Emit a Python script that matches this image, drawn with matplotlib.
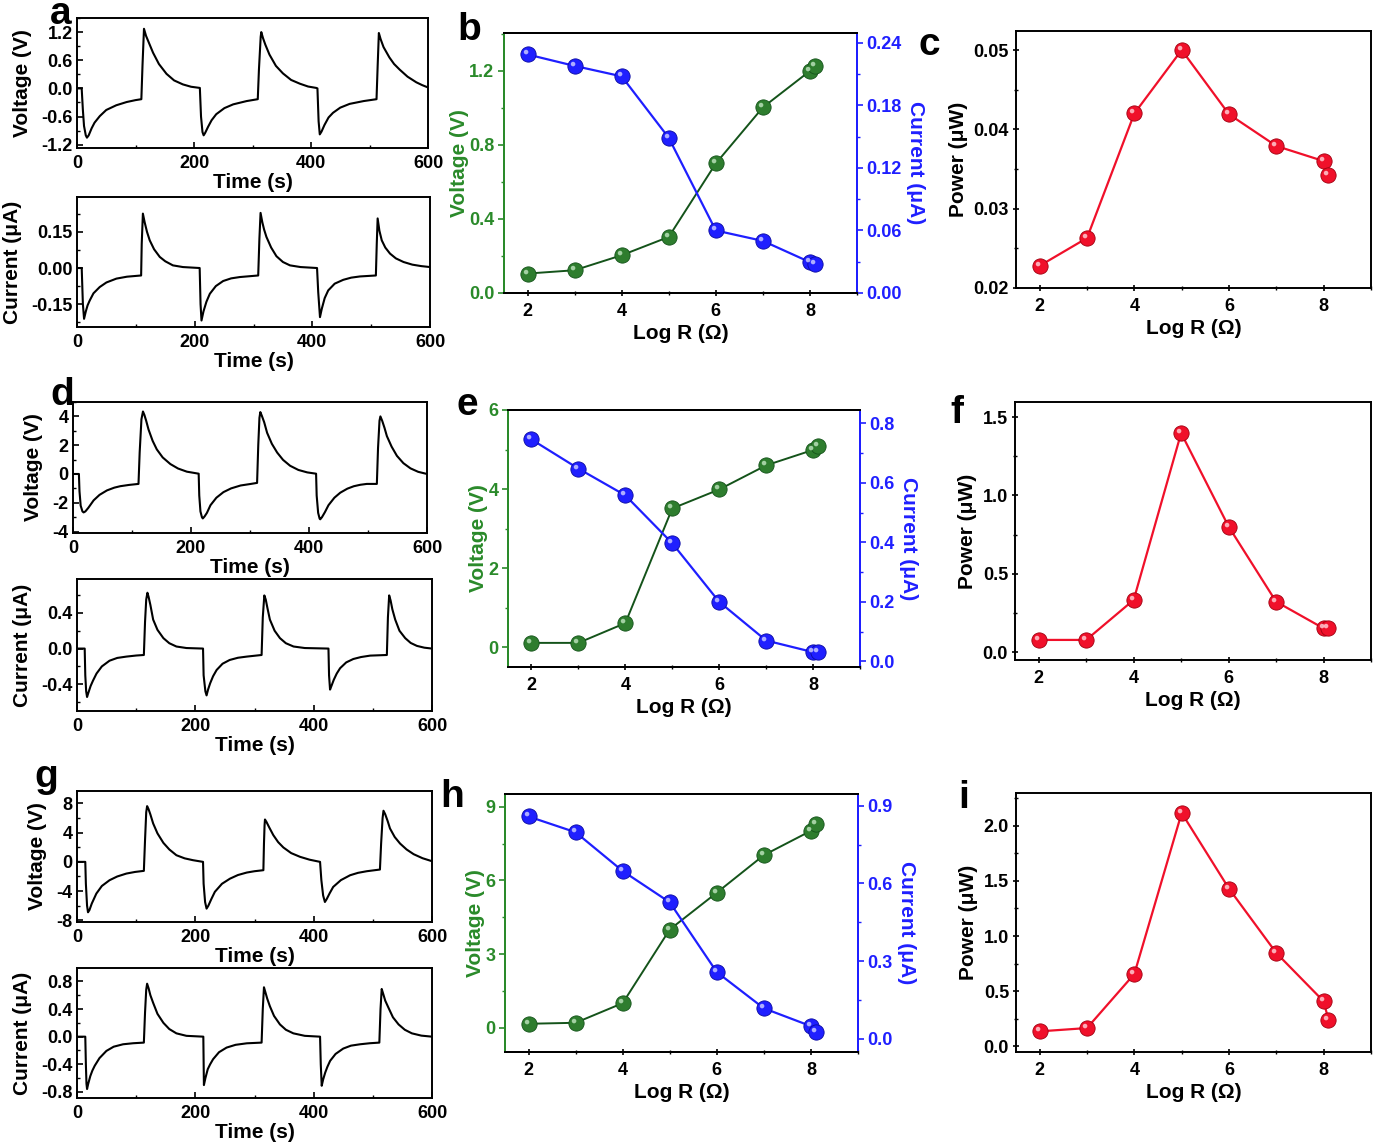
import matplotlib
matplotlib.use('Agg')
import matplotlib.pyplot as plt
from matplotlib.path import Path
from matplotlib.ticker import MultipleLocator, FormatStrFormatter
import numpy as np

plt.rcParams['font.family'] = ['Liberation Sans', 'DejaVu Sans']
plt.rcParams['font.weight'] = 'bold'
plt.rcParams['axes.unicode_minus'] = False

# ---------------- data: time series ----------------
a_v_t = [0, 8, 10, 12, 15, 17, 20, 25, 30, 39, 50, 67, 85, 100, 110, 112, 114.5, 118, 123, 130, 140, 153, 166, 181, 195, 210,
         212, 214.5, 216.5, 219, 224, 230, 238, 252, 267, 290, 309, 311, 314, 315, 318, 322, 329, 340, 352, 366, 381, 395, 409,
         411, 413, 415, 418, 423, 430, 437.6, 450, 466, 490, 512, 514, 516, 519, 524, 534, 542, 551.6, 565, 580, 590, 600]
a_v = [0, 0, -0.45, -0.8, -1.0, -1.05, -1.0, -0.85, -0.73, -0.59, -0.46, -0.36, -0.29, -0.25, -0.23, 0.5, 1.27, 1.12, 0.97, 0.76, 0.52, 0.31, 0.17, 0.085, 0.035, 0.01,
       -0.6, -0.93, -1.0, -0.95, -0.82, -0.68, -0.55, -0.42, -0.34, -0.27, -0.23, 0.4, 1.1, 1.2, 1.07, 0.93, 0.72, 0.48, 0.32, 0.18, 0.10, 0.04, 0.01,
       0.0, -0.7, -0.98, -0.92, -0.78, -0.62, -0.52, -0.41, -0.33, -0.27, -0.23, 0.5, 1.18, 1.05, 0.88, 0.66, 0.52, 0.40, 0.25, 0.13, 0.07, 0.02]

a_i_t = [0, 8, 10, 12, 15, 18, 21.6, 28, 38.6, 50, 67, 85, 109, 110, 112, 115, 119, 123.6, 131, 140.7, 150, 163, 180, 208.5,
         210, 211.6, 215, 220, 225.8, 236, 248.4, 262, 276.8, 308, 310, 312, 315, 318, 322, 330, 339, 350, 362, 380, 408,
         410, 413, 416, 421, 427, 438, 452.6, 466, 481, 508, 509.5, 511, 514, 518, 524, 532, 542, 555, 570, 585, 600]
a_i = [0, 0, -0.15, -0.211, -0.18, -0.155, -0.135, -0.105, -0.079, -0.06, -0.044, -0.036, -0.031, 0.1, 0.226, 0.19, 0.15, 0.115, 0.078, 0.046, 0.028, 0.011, 0.004, 0.0,
       -0.15, -0.218, -0.18, -0.14, -0.107, -0.075, -0.054, -0.043, -0.0375, -0.031, 0.12, 0.229, 0.19, 0.16, 0.129, 0.085, 0.049, 0.025, 0.011, 0.004, 0.0,
       -0.1, -0.204, -0.17, -0.125, -0.093, -0.065, -0.049, -0.04, -0.035, -0.031, 0.1, 0.206, 0.155, 0.115, 0.085, 0.06, 0.04, 0.025, 0.014, 0.008, 0.004]

d_v_t = [0, 10, 11, 13, 16, 18, 21, 26, 35, 45, 57.6, 70, 80, 95, 111, 113, 116, 118.6, 121, 124, 128, 135, 142, 152, 165, 178, 193, 213,
         214, 216, 218.5, 220, 223, 227, 233, 243, 255, 268, 284, 300, 312, 314, 316, 317.5, 320, 324, 329, 337, 346, 356, 368, 382, 397, 412,
         413, 415.5, 418, 419, 422, 427, 433, 443, 453, 465, 476, 487, 498, 515, 517, 519.5, 521, 524, 528, 532, 540, 549, 560, 572, 585, 600]
d_v = [0, 0, -1.2, -2.2, -2.6, -2.67, -2.6, -2.35, -1.83, -1.45, -1.14, -0.95, -0.85, -0.76, -0.69, 1.5, 3.8, 4.34, 4.1, 3.7, 3.09, 2.3, 1.71, 1.15, 0.69, 0.38, 0.16, 0.02,
       -1.5, -2.6, -3.0, -3.09, -2.95, -2.7, -2.17, -1.65, -1.26, -1.0, -0.8, -0.7, -0.62, 2.0, 3.9, 4.3, 4.05, 3.6, 2.86, 2.1, 1.49, 0.98, 0.57, 0.28, 0.11, 0.02,
       -1.5, -2.7, -3.1, -3.15, -3.0, -2.65, -2.17, -1.65, -1.3, -1.02, -0.85, -0.75, -0.69, -0.69, 1.8, 3.7, 4.0, 3.7, 3.2, 2.63, 1.9, 1.26, 0.75, 0.39, 0.15, 0.0]

d_i_t = [0, 13, 14, 15.5, 17, 19, 23, 27, 33, 42, 55, 68, 83.5, 100, 113, 115, 117, 119, 121, 124, 128.7, 136, 146, 156, 168, 185, 213,
         214, 217, 219, 221.5, 225, 230, 236, 246, 258, 272, 287, 312, 314, 316.6, 319, 322, 326, 334, 343, 353, 366, 385, 425,
         426, 427.7, 430, 434, 439, 444.7, 455, 467, 480, 495.5, 523.7, 525.5, 527.6, 530, 533, 537.8, 545, 554.7, 564, 574.5, 587, 600]
d_i = [0, 0, -0.3, -0.48, -0.543, -0.5, -0.42, -0.36, -0.28, -0.2, -0.136, -0.105, -0.09, -0.078, -0.072, 0.3, 0.55, 0.626, 0.58, 0.49, 0.325, 0.21, 0.117, 0.06, 0.023, 0.006, 0.0,
       -0.3, -0.48, -0.525, -0.46, -0.39, -0.31, -0.24, -0.17, -0.128, -0.103, -0.09, -0.072, 0.35, 0.596, 0.55, 0.45, 0.325, 0.2, 0.117, 0.06, 0.023, 0.006, 0.0,
       -0.3, -0.46, -0.42, -0.35, -0.28, -0.22, -0.155, -0.117, -0.095, -0.079, -0.072, 0.35, 0.596, 0.54, 0.44, 0.325, 0.2, 0.117, 0.063, 0.03, 0.01, 0.0]

g_v_t = [0, 14, 15, 17, 18.6, 21, 25, 32.7, 42, 55, 68, 83.5, 98, 113, 115, 117, 118.5, 121, 124, 128.7, 136, 146, 156, 168, 182, 196, 213,
         214, 216.5, 219, 222, 227, 233, 245, 258.5, 272, 287, 300, 315, 316, 317, 317.7, 320, 325, 331.8, 340, 348.8, 362, 377, 393, 410.8,
         413, 416, 419, 422, 427, 433, 446, 461.6, 475, 489.8, 512, 514, 516.5, 518, 521, 525, 529, 537, 546, 557, 569, 584, 600]
g_v = [0, 0, -3.0, -6.0, -6.9, -6.6, -5.7, -4.34, -3.3, -2.51, -2.0, -1.6, -1.38, -1.23, 3.0, 6.8, 7.63, 7.2, 6.5, 5.26, 3.9, 2.6, 1.7, 0.91, 0.48, 0.23, 0.0,
       -3.0, -5.5, -6.4, -6.0, -5.1, -4.1, -3.0, -2.3, -1.8, -1.46, -1.28, -1.14, 2.5, 5.0, 5.8, 5.5, 4.7, 3.66, 2.7, 1.97, 1.2, 0.69, 0.3, 0.0,
       -2.5, -4.6, -5.49, -5.1, -4.3, -3.43, -2.5, -1.83, -1.5, -1.28, -1.05, 2.5, 6.0, 7.0, 6.5, 5.6, 4.57, 3.4, 2.51, 1.7, 1.05, 0.5, 0.09]

g_i_t = [0, 14, 15, 16, 17, 19, 22.5, 26, 30, 38, 49.7, 62, 77.9, 95, 113, 115, 117, 118.5, 121, 124, 128.7, 136, 146, 156, 168, 185, 213.5,
         214.5, 217, 221, 225, 230, 240, 252.8, 268, 287, 312, 314, 316, 318.5, 321.5, 326, 333, 343, 353, 365.7, 385, 410.8,
         412, 413.6, 416, 419.5, 423, 427.8, 437, 450, 463, 478.5, 495, 511, 513, 515, 517.5, 521, 526.5, 534, 543.5, 554, 566, 582, 600]
g_i = [0, 0, -0.4, -0.68, -0.757, -0.68, -0.57, -0.49, -0.42, -0.31, -0.206, -0.145, -0.11, -0.095, -0.086, 0.35, 0.68, 0.766, 0.7, 0.6, 0.489, 0.33, 0.2, 0.11, 0.048, 0.012, 0.0,
       -0.7, -0.6, -0.47, -0.4, -0.326, -0.225, -0.158, -0.118, -0.096, -0.086, 0.4, 0.714, 0.64, 0.55, 0.44, 0.3, 0.177, 0.1, 0.048, 0.012, 0.0,
       -0.4, -0.71, -0.62, -0.52, -0.44, -0.35, -0.25, -0.172, -0.13, -0.11, -0.095, -0.086, 0.4, 0.69, 0.62, 0.52, 0.417, 0.28, 0.177, 0.1, 0.048, 0.015, 0.0]

# ---------------- data: load-resistance sweeps ----------------
logR = [2, 3, 4, 5, 6, 7, 8, 8.1]
b_volt = [0.105, 0.123, 0.204, 0.303, 0.70, 1.003, 1.20, 1.229]
b_curr = [0.229, 0.218, 0.208, 0.149, 0.060, 0.050, 0.0296, 0.028]
c_pow = [0.0228, 0.0263, 0.0420, 0.0500, 0.0419, 0.0379, 0.0360, 0.0343]
e_volt = [0.11, 0.11, 0.61, 3.51, 3.99, 4.60, 4.99, 5.10]
e_curr = [0.746, 0.648, 0.558, 0.397, 0.200, 0.070, 0.031, 0.031]
f_pow = [0.079, 0.079, 0.334, 1.398, 0.802, 0.323, 0.153, 0.153]
h_volt = [0.16, 0.20, 1.0, 4.0, 5.5, 7.03, 8.02, 8.28]
h_curr = [0.859, 0.798, 0.648, 0.527, 0.257, 0.117, 0.048, 0.026]
i_pow = [0.136, 0.166, 0.656, 2.115, 1.429, 0.846, 0.408, 0.242]

letters = ['a', 'b', 'c', 'd', 'e', 'f', 'g', 'h', 'i']

# ---------------- style ----------------
W, H = 1378, 1144
fig = plt.figure(figsize=(W / 100, H / 100), dpi=100)
fig.patch.set_facecolor('white')

GREEN = '#2a8a2a'
GREEN_D = '#14531a'
BLUE = '#1f1fff'
BLUE_D = '#0a0aa0'
RED = '#f0102a'
RED_D = '#a00010'
TICK_FS = 13
LAB_FS = 15

hl_path = Path.circle(center=(-0.32, 0.32), radius=0.3)
hl_ext = np.abs(hl_path.vertices).max()


def rect(l, t, r, b):
    return [l / W, 1 - b / H, (r - l) / W, (b - t) / H]


def style(ax, xmaj, xmin, ymaj, ymin, yfmt, direction='in'):
    ax.xaxis.set_major_locator(MultipleLocator(xmaj))
    ax.xaxis.set_minor_locator(MultipleLocator(xmin))
    ax.yaxis.set_major_locator(MultipleLocator(ymaj))
    ax.yaxis.set_minor_locator(MultipleLocator(ymin))
    ax.yaxis.set_major_formatter(FormatStrFormatter(yfmt))
    ax.tick_params(which='major', direction=direction, length=4, width=1.2, labelsize=TICK_FS, pad=3)
    ax.tick_params(axis='x', which='major', pad=5)
    ax.tick_params(which='minor', direction=direction, length=2.5, width=1.0)
    for s in ax.spines.values():
        s.set_linewidth(1.4)
    for lab in ax.get_xticklabels() + ax.get_yticklabels():
        lab.set_fontweight('bold')


def balls(ax, x, y, color, dark, light, ms=11):
    ax.plot(x, y, ls='none', marker='o', ms=ms, mfc=color, mec=dark, mew=0.6, zorder=3)
    ax.plot(x, y, ls='none', marker=hl_path, ms=ms * hl_ext, mfc=light, mec='none', zorder=4, alpha=0.85)


def timeplot(r, t, y, ylim, ymaj, ymin, yfmt, ylabel):
    ax = fig.add_axes(rect(*r))
    ax.plot(t, y, color='black', lw=1.5)
    ax.set_xlim(0, 600)
    ax.set_ylim(*ylim)
    style(ax, 200, 100, ymaj, ymin, yfmt)
    ax.xaxis.set_major_formatter(FormatStrFormatter('%d'))
    ax.set_xlabel('Time (s)', fontsize=LAB_FS, fontweight='bold', labelpad=1)
    ax.set_ylabel(ylabel, fontsize=LAB_FS, fontweight='bold', labelpad=7)
    return ax


def dualplot(r, v, c, vlim, vmaj, vmin, vfmt, clim, cmaj, cmin, cfmt):
    ax = fig.add_axes(rect(*r))
    ax2 = ax.twinx()
    ax.plot(logR, v, color=GREEN_D, lw=1.4, zorder=2)
    balls(ax, logR, v, '#2e7d2e', GREEN_D, '#b8e0b8')
    ax2.plot(logR, c, color=BLUE, lw=1.6, zorder=2)
    balls(ax2, logR, c, BLUE, BLUE_D, '#c8c8ff')
    ax.set_xlim(1.5, 9)
    ax.set_ylim(*vlim)
    ax2.set_ylim(*clim)
    style(ax, 2, 1, vmaj, vmin, vfmt, direction='inout')
    style(ax2, 2, 1, cmaj, cmin, cfmt, direction='inout')
    ax.tick_params(axis='y', which='both', direction='out', colors=GREEN, labelcolor=GREEN)
    ax2.tick_params(axis='y', which='both', direction='out', colors=BLUE, labelcolor=BLUE)
    ax.spines['left'].set_color(GREEN)
    ax2.spines['left'].set_color(GREEN)
    ax.spines['right'].set_color(BLUE)
    ax2.spines['right'].set_color(BLUE)
    ax.xaxis.set_major_formatter(FormatStrFormatter('%d'))
    ax.set_xlabel('Log R (\u03a9)', fontsize=LAB_FS, fontweight='bold', labelpad=3)
    ax.set_ylabel('Voltage (V)', fontsize=LAB_FS, fontweight='bold', color=GREEN, labelpad=0)
    ax2.set_ylabel('Current (\u03bcA)', fontsize=LAB_FS, fontweight='bold', color=BLUE,
                   rotation=270, va='bottom', labelpad=3)
    return ax


def powplot(r, p, ylim, ymaj, ymin, yfmt):
    ax = fig.add_axes(rect(*r))
    ax.plot(logR, p, color=RED, lw=1.6, zorder=2)
    balls(ax, logR, p, RED, RED_D, '#ffc8d0')
    ax.set_xlim(1.5, 9)
    ax.set_ylim(*ylim)
    style(ax, 2, 1, ymaj, ymin, yfmt, direction='inout')
    ax.xaxis.set_major_formatter(FormatStrFormatter('%d'))
    ax.set_xlabel('Log R (\u03a9)', fontsize=LAB_FS, fontweight='bold', labelpad=3)
    ax.set_ylabel('Power (\u03bcW)', fontsize=LAB_FS, fontweight='bold', labelpad=4)
    return ax


# row 1
timeplot((77, 18, 428, 148), a_v_t, a_v, (-1.27, 1.5), 0.6, 0.3, '%.1f', 'Voltage (V)')
timeplot((77, 197, 430, 327), a_i_t, a_i, (-0.245, 0.295), 0.15, 0.075, '%.2f', 'Current (\u03bcA)')
dualplot((504, 33, 857, 293), b_volt, b_curr, (0, 1.405), 0.4, 0.2, '%.1f', (0, 0.2496), 0.06, 0.03, '%.2f')
powplot((1016, 31, 1371, 288), c_pow, (0.02, 0.0524), 0.01, 0.005, '%.2f')

# row 2
timeplot((73, 402, 427, 533), d_v_t, d_v, (-4.1, 5.0), 2, 1, '%d', 'Voltage (V)')
timeplot((77, 579, 432, 711), d_i_t, d_i, (-0.70, 0.78), 0.4, 0.2, '%.1f', 'Current (\u03bcA)')
dualplot((508, 410, 860, 667), e_volt, e_curr, (-0.5, 6.0), 2, 1, '%d', (-0.019, 0.845), 0.2, 0.1, '%.1f')
powplot((1015, 402, 1371, 660), f_pow, (-0.049, 1.596), 0.5, 0.25, '%.1f')

# row 3
timeplot((77, 791, 432, 922), g_v_t, g_v, (-8.23, 9.7), 4, 2, '%d', 'Voltage (V)')
timeplot((77, 968, 432, 1098), g_i_t, g_i, (-0.887, 0.993), 0.4, 0.2, '%.1f', 'Current (\u03bcA)')
dualplot((505, 794, 858, 1052), h_volt, h_curr, (-0.99, 9.52), 3, 1.5, '%d', (-0.052, 0.946), 0.3, 0.15, '%.1f')
powplot((1016, 793, 1371, 1052), i_pow, (-0.051, 2.296), 0.5, 0.25, '%.1f')

# panel letters (baseline positions in pixels)
letter_pos = [(50, 24), (457, 40), (918, 55), (50, 405), (456, 415), (950, 423), (34, 787), (440, 807), (958, 808)]
for lt, (px, py) in zip(letters, letter_pos):
    fig.text(px / W, 1 - py / H, lt, fontsize=28, fontweight='bold', ha='left', va='baseline')

fig.savefig('out.png', dpi=100, facecolor='white')
